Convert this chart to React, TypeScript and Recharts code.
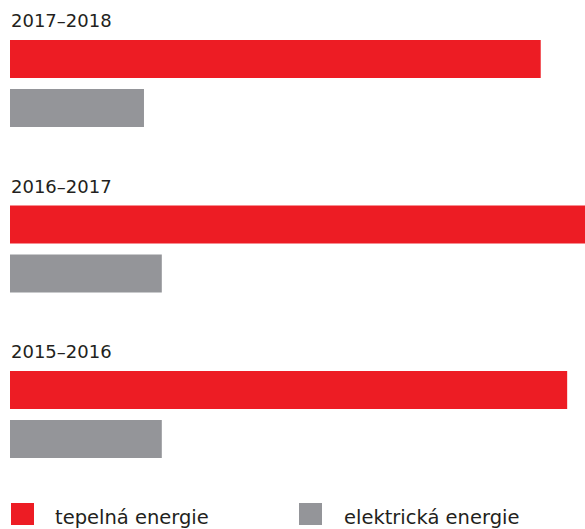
import React from 'react';
import { BarChart, Bar, XAxis, YAxis, Legend, LabelList } from 'recharts';

// periods, top to bottom
const periods = ['2017–2018', '2016–2017', '2015–2016'];
// share of the longest bar (%)
const tepelnaEnergie = [92.3, 100, 96.9];
const elektrickaEnergie = [23.3, 26.4, 26.4];
const seriesNames = ['tepelná energie', 'elektrická energie'];

const RED = '#ed1c24';
const GREY = '#949599';
const TEXT = '#231f20';
const FONT = '"DejaVu Sans", sans-serif';

const data = periods.map((period, i) => ({
  period,
  tepelna: tepelnaEnergie[i],
  elektricka: elektrickaEnergie[i],
}));

const PeriodLabel = (props: any) => {
  const { x, y, value } = props;
  return (
    <text x={x + 1} y={y - 13} fill={TEXT} fontSize={18} fontFamily={FONT}>
      {value}
    </text>
  );
};

const legendSquareX = [11, 299];
const legendTextX = [55, 344];

const renderLegend = (props: any) => {
  // keep the series order, not the alphabetical one
  const items = seriesNames.map((name) => props.payload.find((p: any) => p.value === name)).filter(Boolean);
  return (
    <div style={{ position: 'relative', width: 585, height: 26, fontFamily: FONT, fontSize: 19.5, color: TEXT }}>
      {items.map((entry: any, index: number) => (
        <React.Fragment key={`legend-${index}`}>
          <span
            style={{
              position: 'absolute',
              left: legendSquareX[index],
              top: 0,
              width: 23,
              height: 22,
              background: entry.color,
            }}
          />
          <span
            style={{
              position: 'absolute',
              left: legendTextX[index],
              top: 3.5,
              lineHeight: '22px',
              whiteSpace: 'nowrap',
            }}
          >
            {entry.value}
          </span>
        </React.Fragment>
      ))}
    </div>
  );
};

export default function App() {
  return (
    <div style={{ position: 'absolute', left: 0, top: 0 }}>
      <BarChart
        width={585}
        height={529}
        data={data}
        layout="vertical"
        margin={{ top: 1, right: 0, bottom: 31.5, left: 10 }}
        barSize={38}
        barGap={11}
      >
        <XAxis type="number" domain={[0, 100]} hide />
        <YAxis type="category" dataKey="period" hide />
        <Legend
          verticalAlign="middle"
          align="center"
          layout="horizontal"
          content={renderLegend}
          wrapperStyle={{ top: 503, left: 0, width: 585, height: 26 }}
        />
        <Bar dataKey="tepelna" name={seriesNames[0]} fill={RED} isAnimationActive={false}>
          <LabelList dataKey="period" content={PeriodLabel} />
        </Bar>
        <Bar dataKey="elektricka" name={seriesNames[1]} fill={GREY} isAnimationActive={false} />
      </BarChart>
    </div>
  );
}
